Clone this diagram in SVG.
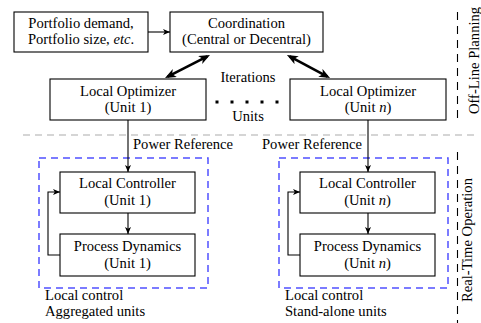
<svg xmlns="http://www.w3.org/2000/svg" width="481" height="323" viewBox="0 0 481 323">
<defs>
<style>
text{font-family:"Liberation Serif","Times New Roman",serif;font-size:14.6px;fill:#000}
.c{text-anchor:middle}
.box{fill:#fff;stroke:#000;stroke-width:1.1}
.ln{fill:none;stroke:#000;stroke-width:1.1}
.thick{fill:none;stroke:#000;stroke-width:2.6}
.blue{fill:none;stroke:#5050ff;stroke-width:1.5;stroke-dasharray:7 5}
.gdash{fill:none;stroke:#c8c8c8;stroke-width:1.3;stroke-dasharray:7 5}
.kdash{fill:none;stroke:#000;stroke-width:1.1;stroke-dasharray:8 6}
.it{font-style:italic}
</style>
<marker id="ah" markerUnits="userSpaceOnUse" markerWidth="8" markerHeight="7" refX="7" refY="3" orient="auto">
<path d="M0,0 L7,3 L0,6 L1.8,3 z" fill="#000"/>
</marker>
<marker id="big" markerUnits="userSpaceOnUse" markerWidth="12" markerHeight="10" refX="8" refY="4.5" orient="auto-start-reverse">
<path d="M0,0 L11,4.5 L0,9 L3,4.5 z" fill="#000"/>
</marker>
</defs>
<g id="separators">
<line class="gdash" x1="23" y1="135" x2="474" y2="135"/>
<line class="kdash" x1="457.5" y1="12" x2="457.5" y2="118"/>
<line class="kdash" x1="457.5" y1="152" x2="457.5" y2="323"/>
<text transform="translate(479,60.5) rotate(-90)" class="c">Off-Line Planning</text>
<text transform="translate(472,240) rotate(-90)" class="c">Real-Time Operation</text>
</g>
<g id="group-aggregated">
<rect class="blue" x="39" y="158" width="169" height="130"/>
<text x="45" y="300">Local control</text>
<text x="45" y="316">Aggregated units</text>
</g>
<g id="group-standalone">
<rect class="blue" x="279" y="158" width="169" height="130"/>
<text x="285" y="300">Local control</text>
<text x="285" y="316">Stand-alone units</text>
</g>
<g id="connectors">
<line class="ln" x1="148" y1="32" x2="170" y2="32" marker-end="url(#ah)"/>
<line class="thick" x1="207.3" y1="56.4" x2="167.7" y2="76.6" marker-start="url(#big)" marker-end="url(#big)"/>
<line class="thick" x1="289.6" y1="56.4" x2="327.4" y2="76.6" marker-start="url(#big)" marker-end="url(#big)"/>
<line class="ln" x1="128" y1="120" x2="128" y2="172" marker-end="url(#ah)"/>
<line class="ln" x1="368" y1="120" x2="368" y2="172" marker-end="url(#ah)"/>
<line class="ln" x1="128" y1="213" x2="128" y2="234" marker-end="url(#ah)"/>
<line class="ln" x1="368" y1="213" x2="368" y2="234" marker-end="url(#ah)"/>
<path class="ln" d="M60,255 H48 V192 H60" marker-end="url(#ah)"/>
<path class="ln" d="M300,255 H288 V192 H300" marker-end="url(#ah)"/>
<text x="133" y="149">Power Reference</text>
<text x="262" y="149">Power Reference</text>
<text x="248" y="82" class="c">Iterations</text>
<text x="248" y="121" class="c">Units</text>
<g fill="#000">
<rect x="215.5" y="100.5" width="3" height="3"/>
<rect x="230.5" y="100.5" width="3" height="3"/>
<rect x="245.5" y="100.5" width="3" height="3"/>
<rect x="260.5" y="100.5" width="3" height="3"/>
<rect x="275.5" y="100.5" width="3" height="3"/>
</g>
</g>
<g id="portfolio">
<rect class="box" x="14" y="12" width="134" height="40"/>
<text x="81" y="28" class="c">Portfolio demand,</text>
<text x="81" y="44" class="c">Portfolio size, <tspan class="it">etc</tspan>.</text>
</g>
<g id="coordination">
<rect class="box" x="170" y="12" width="153" height="40"/>
<text x="246.5" y="28" class="c">Coordination</text>
<text x="246.5" y="44" class="c">(Central or Decentral)</text>
</g>
<g id="optimizer-1">
<rect class="box" x="50" y="79" width="156" height="41"/>
<text x="128" y="96" class="c">Local Optimizer</text>
<text x="128" y="112" class="c">(Unit 1)</text>
</g>
<g id="optimizer-n">
<rect class="box" x="290" y="79" width="156" height="41"/>
<text x="368" y="96" class="c">Local Optimizer</text>
<text x="368" y="112" class="c">(Unit <tspan class="it">n</tspan>)</text>
</g>
<g id="controller-1">
<rect class="box" x="60" y="172" width="135" height="41"/>
<text x="127.5" y="188" class="c">Local Controller</text>
<text x="127.5" y="205" class="c">(Unit 1)</text>
</g>
<g id="dynamics-1">
<rect class="box" x="60" y="234" width="135" height="42"/>
<text x="127.5" y="251" class="c">Process Dynamics</text>
<text x="127.5" y="268" class="c">(Unit 1)</text>
</g>
<g id="controller-n">
<rect class="box" x="300" y="172" width="135" height="41"/>
<text x="367.5" y="188" class="c">Local Controller</text>
<text x="367.5" y="205" class="c">(Unit <tspan class="it">n</tspan>)</text>
</g>
<g id="dynamics-n">
<rect class="box" x="300" y="234" width="135" height="42"/>
<text x="367.5" y="251" class="c">Process Dynamics</text>
<text x="367.5" y="268" class="c">(Unit <tspan class="it">n</tspan>)</text>
</g>
</svg>
